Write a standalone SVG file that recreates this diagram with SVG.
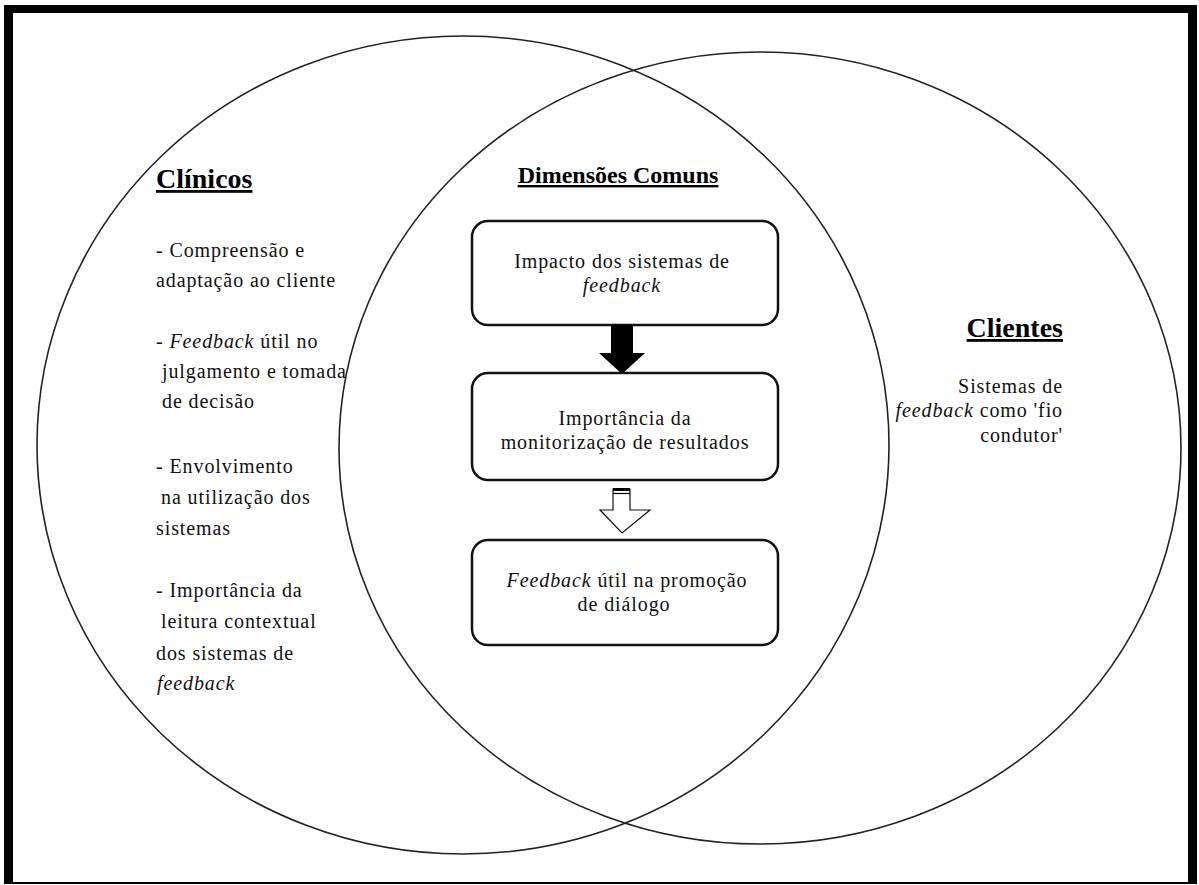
<svg xmlns="http://www.w3.org/2000/svg" width="1199" height="885" viewBox="0 0 1199 885">
<style>
.t{font-family:'Liberation Serif','Tinos','Times New Roman','DejaVu Serif',serif;font-size:20px;fill:#111;letter-spacing:0.9px}
.i{font-style:italic}
.h{font-family:'Liberation Serif','Tinos','Times New Roman','DejaVu Serif',serif;font-weight:bold;fill:#000;text-decoration:underline}
.c{text-anchor:middle}
.r{text-anchor:end}
.ell{fill:none;stroke:#222;stroke-width:1.6}
.box{fill:#fff;stroke:#111;stroke-width:2.5}
</style>
<rect x="0" y="0" width="1199" height="885" fill="#fff"/>
<rect x="4" y="5" width="1193" height="879" fill="#000"/>
<rect x="13" y="13" width="1175" height="869" fill="#fff"/>
<g id="circles">
<ellipse id="clinicos-circle" class="ell" cx="463" cy="445" rx="426" ry="409"/>
<ellipse id="clientes-circle" class="ell" cx="760" cy="448" rx="421" ry="396"/>
</g>
<g id="clinicos">
<text class="h" x="156" y="188" font-size="28">Clínicos</text>
<text class="t" x="156" y="257">- Compreensão e</text>
<text class="t" x="156" y="287">adaptação ao cliente</text>
<text class="t" x="156" y="348">- <tspan class="i">Feedback</tspan> útil no</text>
<text class="t" x="162" y="378">julgamento e tomada</text>
<text class="t" x="162" y="408">de decisão</text>
<text class="t" x="156" y="473">- Envolvimento</text>
<text class="t" x="161" y="504">na utilização dos</text>
<text class="t" x="156" y="535">sistemas</text>
<text class="t" x="156" y="597">- Importância da</text>
<text class="t" x="161" y="628">leitura contextual</text>
<text class="t" x="156" y="660">dos sistemas de</text>
<text class="t i" x="157" y="690">feedback</text>
</g>
<g id="clientes">
<text class="h r" x="1063" y="337" font-size="28">Clientes</text>
<text class="t r" x="1063" y="393">Sistemas de</text>
<text class="t r" x="1063" y="417"><tspan class="i">feedback</tspan> como 'fio</text>
<text class="t r" x="1063" y="442">condutor'</text>
</g>
<g id="comuns-title">
<text class="h c" x="618" y="183" font-size="24">Dimensões Comuns</text>
</g>
<g id="box-impacto">
<rect class="box" x="472" y="221" width="306" height="104" rx="16"/>
<text class="t c" x="622" y="268">Impacto dos sistemas de</text>
<text class="t c i" x="622" y="292">feedback</text>
</g>
<g id="box-monitorizacao">
<rect class="box" x="472" y="373" width="306" height="107" rx="16"/>
<text class="t c" x="625" y="425">Importância da</text>
<text class="t c" x="625" y="449">monitorização de resultados</text>
</g>
<g id="box-dialogo">
<rect class="box" x="472" y="540" width="306" height="105" rx="16"/>
<text class="t c" x="627" y="587"><tspan class="i">Feedback</tspan> útil na promoção</text>
<text class="t c" x="624" y="611">de diálogo</text>
</g>
<g id="connectors">
<polygon points="611,325 633,325 633,353 645,353 622,374 599,353 611,353" fill="#000"/>
<polygon points="613,489 630,489 630,510 650,510 622,533 600,510 613,510" fill="#fff" stroke="#111" stroke-width="1.2"/>
<rect x="613" y="488" width="17" height="3" fill="#000"/>
<line x1="613" y1="493.5" x2="630" y2="493.5" stroke="#000" stroke-width="1.2"/>
</g>
</svg>
